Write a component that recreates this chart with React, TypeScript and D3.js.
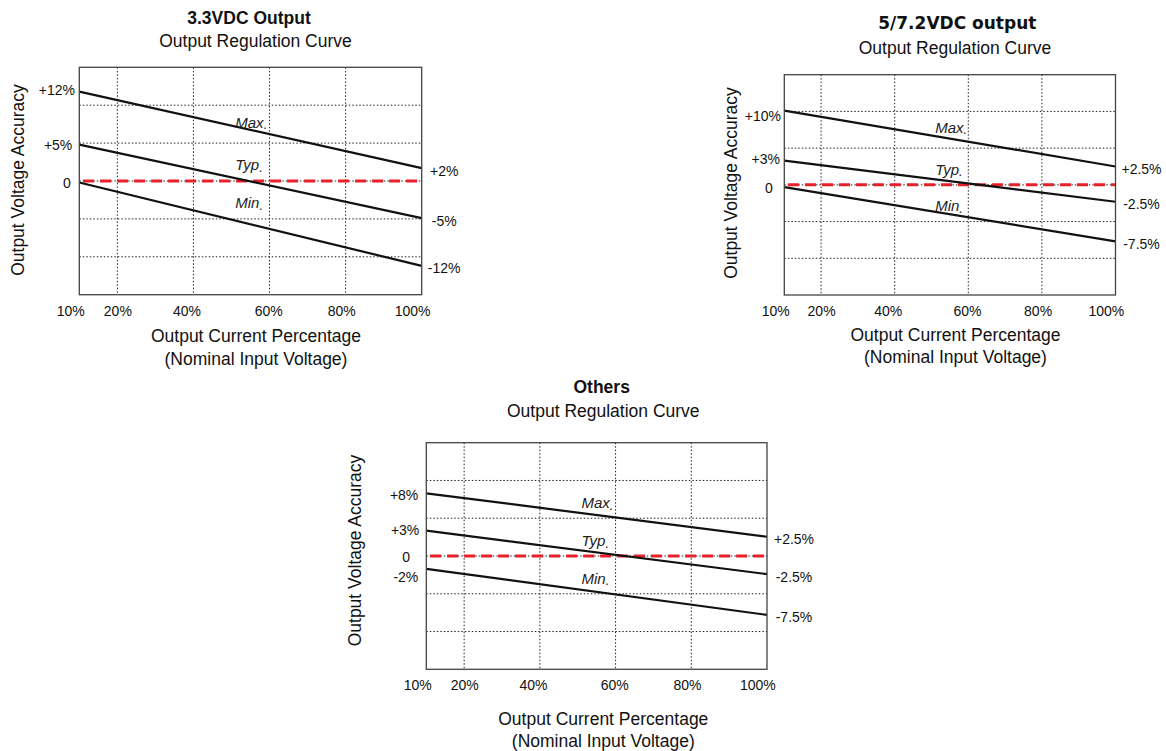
import React from "react";
import * as d3 from "d3";

// ---------- data ----------
const xDomain = [10, 100];
const yDomain = [-15, 15];
const xTickValues = [10, 20, 40, 60, 80, 100];
const xTickLabels = ["10%", "20%", "40%", "60%", "80%", "100%"];
const xGridValues = [20, 40, 60, 80];
const yGridValues = [-10, -5, 0, 5, 10];
const loadPoints = [10, 100];
const curveNames = ["Max", "Typ", "Min"];
const nameAtLoad = 51;
const refLine = [11, 100];
const subtitle = "Output Regulation Curve";
const xTitle1 = "Output Current Percentage";
const xTitle2 = "(Nominal Input Voltage)";
const yTitle = "Output Voltage Accuracy";

// 3.3VDC
const p1Title = "3.3VDC Output";
const p1Max = [11.8, 1.7];
const p1Typ = [4.8, -4.9];
const p1Min = [-0.2, -11.2];
const p1LeftValues = [12, 5, 0];
const p1LeftLabels = ["+12%", "+5%", "0"];
const p1RightLabels = ["+2%", "-5%", "-12%"];
const p1NameLevels = [7.7, 2.1, -2.9];

// 5/7.2VDC
const p2Title = "5/7.2VDC output";
const p2Max = [10.1, 2.5];
const p2Typ = [3.3, -2.3];
const p2Min = [-0.3, -7.7];
const p2LeftValues = [10, 3, 0];
const p2LeftLabels = ["+10%", "+3%", "0"];
const p2RightLabels = ["+2.5%", "-2.5%", "-7.5%"];
const p2NameLevels = [7.8, 2.1, -2.9];

// Others
const p3Title = "Others";
const p3Max = [8.3, 2.55];
const p3Typ = [3.35, -2.4];
const p3Min = [-1.7, -7.8];
const p3LeftValues = [8, 3, 0, -2];
const p3LeftLabels = ["+8%", "+3%", "0", "-2%"];
const p3RightLabels = ["+2.5%", "-2.5%", "-7.5%"];
const p3NameLevels = [7.0, 2.0, -3.0];

// ---------- layout ----------
const FONT = "'Liberation Sans', Arial, sans-serif";
const xTickDx = [-8.5, 0.5, -6.4, -0.8, -3.8, -9.1];

type Layout = {
  left: number; top: number; right: number; bottom: number;
  titleX: number; titleY: number; titleFont: string; titleSize: number;
  subX: number; subY: number;
  xtX: number; xt1Y: number; xt2Y: number;
  ytX: number; ytY: number;
  leftDx: number[]; leftDy: number[];
  rightDx: number;
};

const layout1: Layout = {
  left: 79.3, top: 67.3, right: 421.7, bottom: 294.7,
  titleX: 249, titleY: 24, titleFont: FONT, titleSize: 17.5,
  subX: 255.5, subY: 46.7,
  xtX: 256, xt1Y: 342, xt2Y: 365,
  ytX: 23.5, ytY: 180,
  leftDx: [-4.3, -7, -8.6], leftDy: [0, 2, 1.7],
  rightDx: 22.5,
};
const layout2: Layout = {
  left: 784.3, top: 74.7, right: 1115.5, bottom: 295,
  titleX: 957.3, titleY: 29.3, titleFont: "'DejaVu Sans', Verdana, sans-serif", titleSize: 17,
  subX: 955, subY: 54.3,
  xtX: 955.5, xt1Y: 341.3, xt2Y: 363.3,
  ytX: 736.5, ytY: 183,
  leftDx: [-3.3, -4.3, -11.6], leftDy: [5, -3.8, 3.5],
  rightDx: 26,
};
const layout3: Layout = {
  left: 426.3, top: 442.7, right: 767, bottom: 669.3,
  titleX: 601.7, titleY: 393.3, titleFont: FONT, titleSize: 17.5,
  subX: 603.3, subY: 416.7,
  xtX: 603.3, xt1Y: 725, xt2Y: 746.7,
  ytX: 361, ytY: 550.5,
  leftDx: [-8, -7, -16.3, -8], leftDy: [-0.6, -3.3, 1.3, 5.6],
  rightDx: 27,
};

type PanelProps = {
  L: Layout;
  title: string;
  curves: number[][];
  leftValues: number[];
  leftLabels: string[];
  rightLabels: string[];
  nameLevels: number[];
};

function Panel({ L, title, curves, leftValues, leftLabels, rightLabels, nameLevels }: PanelProps) {
  const x = d3.scaleLinear().domain(xDomain).range([L.left, L.right]);
  const y = d3.scaleLinear().domain(yDomain).range([L.bottom, L.top]);
  const line = d3
    .line<[number, number]>()
    .x((d) => x(d[0]))
    .y((d) => y(d[1]));

  return (
    <g fontFamily={FONT} fill="#111">
      <text x={L.titleX} y={L.titleY} textAnchor="middle" fontWeight="bold" fontSize={L.titleSize} fontFamily={L.titleFont}>
        {title}
      </text>
      <text x={L.subX} y={L.subY} textAnchor="middle" fontSize={17.5}>
        {subtitle}
      </text>

      {/* grid */}
      {xGridValues.map((v) => (
        <line key={"gx" + v} x1={x(v)} x2={x(v)} y1={L.top} y2={L.bottom} stroke="#222" strokeWidth={1} strokeDasharray="1.5,2" />
      ))}
      {yGridValues.map((v) => (
        <line key={"gy" + v} x1={L.left} x2={L.right} y1={y(v)} y2={y(v)} stroke="#222" strokeWidth={1} strokeDasharray="1.5,2" />
      ))}

      {/* reference zero line */}
      <line x1={x(refLine[0])} x2={x(refLine[1])} y1={y(0)} y2={y(0)} stroke="#e8202a" strokeWidth={3} strokeDasharray="11,6" />

      {/* curves */}
      {curves.map((c, i) => (
        <path
          key={"c" + i}
          d={line(loadPoints.map((lp, j) => [lp, c[j]] as [number, number])) || ""}
          fill="none"
          stroke="#111"
          strokeWidth={2.2}
        />
      ))}

      {/* frame */}
      <rect x={L.left} y={L.top} width={L.right - L.left} height={L.bottom - L.top} fill="none" stroke="#444" strokeWidth={1.3} />

      {/* curve names */}
      {curveNames.map((n, i) => (
        <text key={"n" + i} x={x(nameAtLoad)} y={y(nameLevels[i])} dy="0.35em" fontSize={15} fontStyle="italic" fill="#222">
          {n}
          <tspan fontSize={13} dy={1.5}>.</tspan>
        </text>
      ))}

      {/* left labels */}
      {leftValues.map((v, i) => (
        <text key={"l" + i} x={L.left + L.leftDx[i]} y={y(v) + L.leftDy[i]} dy="0.35em" textAnchor="end" fontSize={14}>
          {leftLabels[i]}
        </text>
      ))}

      {/* right labels at curve ends */}
      {curves.map((c, i) => (
        <text key={"r" + i} x={L.right + L.rightDx} y={y(c[1]) + 2.5} dy="0.35em" textAnchor="middle" fontSize={14}>
          {rightLabels[i]}
        </text>
      ))}

      {/* x tick labels */}
      {xTickValues.map((v, i) => (
        <text key={"xt" + i} x={x(v) + xTickDx[i]} y={L.bottom + 16} dy="0.35em" textAnchor="middle" fontSize={14}>
          {xTickLabels[i]}
        </text>
      ))}

      {/* axis titles */}
      <text x={L.xtX} y={L.xt1Y} textAnchor="middle" fontSize={17.5}>
        {xTitle1}
      </text>
      <text x={L.xtX} y={L.xt2Y} textAnchor="middle" fontSize={17.5}>
        {xTitle2}
      </text>
      <text transform={`translate(${L.ytX},${L.ytY}) rotate(-90)`} textAnchor="middle" fontSize={17.5}>
        {yTitle}
      </text>
    </g>
  );
}

export default function App() {
  return (
    <svg width={1166} height={751} style={{ position: "absolute", left: 0, top: 0, background: "#fff" }}>
      <rect width={1166} height={751} fill="#fff" />
      <Panel L={layout1} title={p1Title} curves={[p1Max, p1Typ, p1Min]} leftValues={p1LeftValues} leftLabels={p1LeftLabels} rightLabels={p1RightLabels} nameLevels={p1NameLevels} />
      <Panel L={layout2} title={p2Title} curves={[p2Max, p2Typ, p2Min]} leftValues={p2LeftValues} leftLabels={p2LeftLabels} rightLabels={p2RightLabels} nameLevels={p2NameLevels} />
      <Panel L={layout3} title={p3Title} curves={[p3Max, p3Typ, p3Min]} leftValues={p3LeftValues} leftLabels={p3LeftLabels} rightLabels={p3RightLabels} nameLevels={p3NameLevels} />
    </svg>
  );
}
